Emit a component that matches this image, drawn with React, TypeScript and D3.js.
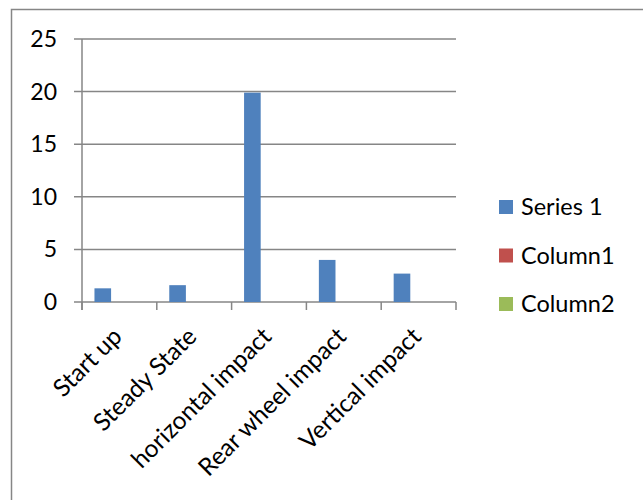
import React from "react";
import * as d3 from "d3";

const categories = ["Start up", "Steady State", "horizontal impact", "Rear wheel impact", "Vertical impact"];
const seriesNames = ["Series 1", "Column1", "Column2"];
const series1 = [1.3, 1.6, 19.9, 4.0, 2.7];
const column1: (number | null)[] = [null, null, null, null, null];
const column2: (number | null)[] = [null, null, null, null, null];
const yTicks = [0, 5, 10, 15, 20, 25];
const colors = ["#4F81BD", "#C0504D", "#9BBB59"];

const W = 643;
const H = 500;
const FONT = "Lato, sans-serif";
const FS = 23;
const FS_CAT = 24.5;

export default function App() {
  const left = 82;
  const right = 456;
  const top = 39;
  const bottom = 302;

  const x0 = d3.scaleBand<string>().domain(categories).range([left, right]).paddingInner(0).paddingOuter(0);
  const bw = x0.bandwidth();
  const gap = (bw * 0.75) / 4.5;
  const x1 = d3.scaleBand<string>().domain(seriesNames).range([gap, bw - gap]).padding(0);
  const y = d3.scaleLinear().domain([0, 25]).range([bottom, top]);

  const allSeries = [series1, column1, column2];
  const gridColor = "#868686";

  const bandEdges = categories.map((c) => x0(c) as number).concat([right]);

  return (
    <svg width={W} height={H} style={{ position: "absolute", left: 0, top: 0 }} fontFamily={FONT}>
      <rect x={0} y={0} width={W} height={H} fill="#fff" />
      <rect x={11.5} y={9.5} width={800} height={700} fill="none" stroke={gridColor} strokeWidth={1.5} />
      {yTicks.map((t) => (
        <g key={t}>
          <line x1={left - 8} x2={right} y1={y(t)} y2={y(t)} stroke={gridColor} strokeWidth={1.5} />
          <text x={57} y={y(t) + 8} textAnchor="end" fontSize={FS} fill="#000">
            {t}
          </text>
        </g>
      ))}
      <line x1={left} x2={left} y1={top} y2={bottom + 8} stroke={gridColor} strokeWidth={1.5} />
      {bandEdges.map((e, i) => (
        <line key={i} x1={e} x2={e} y1={bottom} y2={bottom + 8} stroke={gridColor} strokeWidth={1.5} />
      ))}
      {allSeries.map((s, si) =>
        s.map((v, ci) =>
          v == null ? null : (
            <rect
              key={si + "-" + ci}
              x={(x0(categories[ci]) as number) + (x1(seriesNames[si]) as number)}
              y={y(v)}
              width={x1.bandwidth()}
              height={bottom - y(v)}
              fill={colors[si]}
            />
          )
        )
      )}
      {categories.map((c) => {
        const cx = (x0(c) as number) + bw / 2;
        return (
          <text
            key={c}
            transform={`translate(${cx + 4},${338}) rotate(-45)`}
            textAnchor="end"
            fontSize={FS_CAT}
            fill="#000"
          >
            {c}
          </text>
        );
      })}
      {seriesNames.map((n, i) => {
        const cy = 207 + i * 48.5;
        return (
          <g key={n}>
            <rect x={499} y={cy - 7} width={14} height={14} fill={colors[i]} />
            <text x={521} y={cy + 8} fontSize={23.5} fill="#000">
              {n}
            </text>
          </g>
        );
      })}
    </svg>
  );
}
